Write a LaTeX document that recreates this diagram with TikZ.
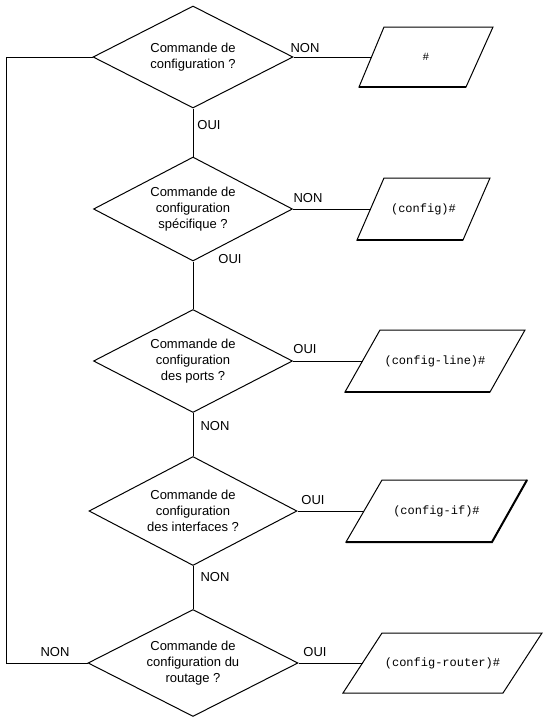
\documentclass[tikz,border=0pt]{standalone}
\usepackage{fontspec}
\setmainfont{Liberation Sans}
\setmonofont{Liberation Mono}
\usetikzlibrary{shapes.geometric}
\begin{document}
\begin{tikzpicture}[x=1pt,y=-1pt,line width=1pt,
  decision/.style={diamond,draw,aspect=2,inner sep=0pt,align=center,font=\fontsize{13}{16}\selectfont},
  outtext/.style={inner sep=0pt,font=\ttfamily\fontsize{12}{14}\selectfont},
  outline/.style={draw,line width=1pt,line join=miter},
  lbl/.style={font=\fontsize{13}{16}\selectfont,inner sep=0pt},
  link/.style={draw,line width=1pt},
  shadowedge/.style={line width=2pt}]
\useasboundingbox (0,0) rectangle (548,724);

% decisions
\node[decision,minimum width=200pt,minimum height=102pt] (d1) at (193,57) {Commande de\\configuration ?};
\node[decision,minimum width=199pt,minimum height=104pt] (d2) at (193,209) {Commande de\\configuration\\spécifique ?};
\node[decision,minimum width=199pt,minimum height=103pt] (d3) at (193,361) {Commande de\\configuration\\des ports ?};
\node[decision,minimum width=208pt,minimum height=109pt] (d4) at (193,511) {Commande de\\configuration\\des interfaces ?};
\node[decision,minimum width=210pt,minimum height=107pt] (d5) at (193,663) {Commande de\\configuration du\\routage ?};

% outputs (parallelograms)
\draw[outline] (359,87) -- coordinate[pos=0.5] (p1in) (384,27) -- (493,27) -- (466,87) -- cycle;
\draw[shadowedge] (359,87) -- (466,87);
\node[outtext] (t1) at (426,57) {\fontsize{11}{13}\selectfont\#};

\draw[outline] (357,240) -- coordinate[pos=0.5] (p2in) (384,178) -- (490,178) -- (463,240) -- cycle;
\draw[shadowedge] (357,240) -- (463,240);
\node[outtext] (t2) at (423.5,209) {(config)\#};

\draw[outline] (345,392) -- coordinate[pos=0.5] (p3in) (380,330) -- (525,330) -- (490,392) -- cycle;
\draw[shadowedge] (345,392) -- (490,392);
\node[outtext] (t3) at (435,361) {(config-line)\#};

\draw[outline] (346,542) -- coordinate[pos=0.5] (p4in) (382,480) -- (527,480) -- (492,542) -- cycle;
\draw[shadowedge] (346,542) -- (492,542) -- (527,480);
\node[outtext] (t4) at (436.5,511) {(config-if)\#};

\draw[outline] (343,693) -- coordinate[pos=0.5] (p5in) (382,633) -- (542,633) -- (503,693) -- cycle;
\node[outtext] (t5) at (442.5,663) {(config-router)\#};

% connectors
\draw[link] (d1.south) -- (d2.north);
\draw[link] (d2.south) -- (d3.north);
\draw[link] (d3.south) -- (d4.north);
\draw[link] (d4.south) -- (d5.north);
\draw[link] (d1.east) -- (p1in);
\draw[link] (d2.east) -- (p2in);
\draw[link] (d3.east) -- (p3in);
\draw[link] (d4.east) -- (p4in);
\draw[link] (d5.east) -- (p5in);
\coordinate (loop) at (6,57);
\draw[link] (d1.west) -- (loop) |- (d5.west);

% labels
\node[lbl] (l1) at (305,48) {NON};
\node[lbl] (l2) at (209,125) {OUI};
\node[lbl] (l3) at (308,198) {NON};
\node[lbl] (l4) at (230,259) {OUI};
\node[lbl] (l5) at (305,349) {OUI};
\node[lbl] (l6) at (215,426) {NON};
\node[lbl] (l7) at (313,500) {OUI};
\node[lbl] (l8) at (215,577) {NON};
\node[lbl] (l9) at (55,652) {NON};
\node[lbl] (l10) at (315,652) {OUI};
\end{tikzpicture}
\end{document}
